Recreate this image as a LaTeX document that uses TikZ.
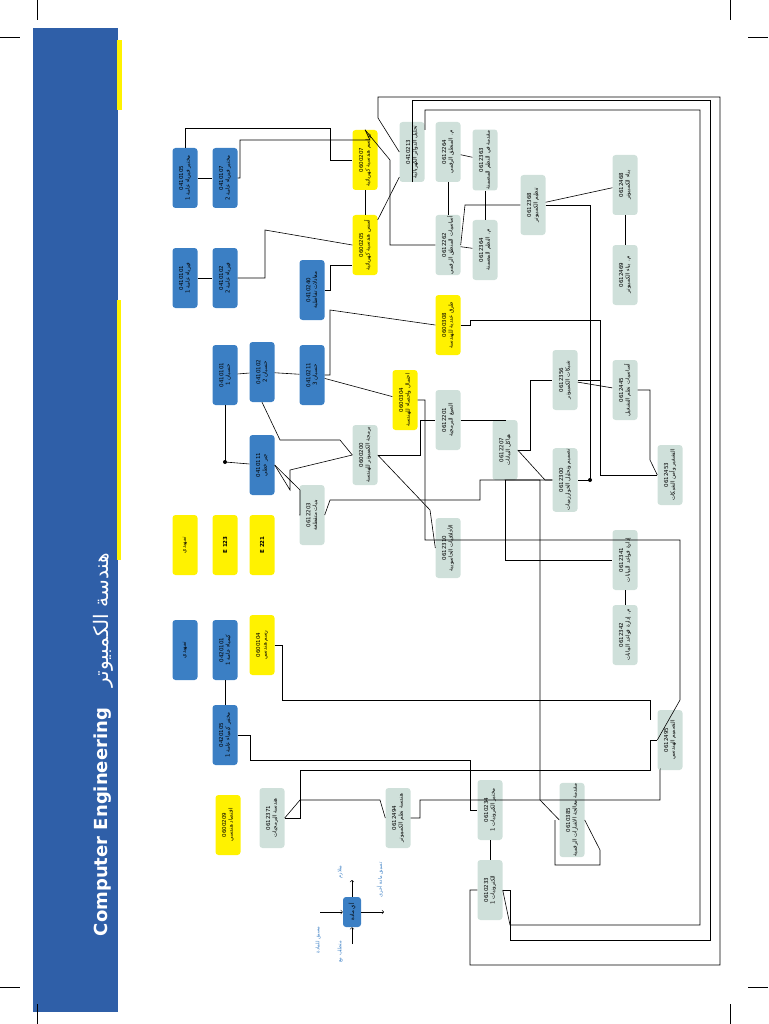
\documentclass[tikz,border=0pt]{standalone}
\usepackage{fontspec}
\setmainfont{DejaVu Sans}
\newfontfamily\arf[Script=Arabic]{DejaVu Sans}
\newcommand\AR[1]{{\arf\beginR #1\endR}}
\TeXXeTstate=1
\definecolor{bandblue}{HTML}{2F5FA8}
\definecolor{bblue}{HTML}{3B7FC4}
\definecolor{byel}{HTML}{FFF200}
\definecolor{bgray}{HTML}{CFE0DA}
\tikzset{
 bx/.style={rounded corners=3pt,align=center,rotate=90,font=\fontsize{5.5}{6.5}\selectfont,inner sep=1pt,minimum width=60pt,minimum height=25pt},
 B/.style={bx,fill=bblue,text=black},
 Y/.style={bx,fill=byel},
 G/.style={bx,fill=bgray},
 ln/.style={draw=black,line width=0.6pt},
}
\begin{document}
\begin{tikzpicture}[x=1pt,y=-1pt]
\useasboundingbox (0,0) rectangle (768,1024);
\fill[bandblue] (33,28) rectangle (118,1012);
\fill[byel] (117,40) rectangle (122,110);
\fill[byel] (117,300) rectangle (121,560);
\draw[line width=0.4pt] (0,37)--(20,37) (37,0)--(37,20) (748,37)--(768,37) (730,0)--(730,20) (0,987)--(20,987) (37,1004)--(37,1024) (748,987)--(768,987) (730,1004)--(730,1024);
\node[rotate=90,text=white,font=\bfseries\fontsize{18}{20}\selectfont] (title) at (103,822) {Computer Engineering};
\node[rotate=90,text=white,font=\fontsize{20}{22}\selectfont] (titlear) at (103,620) {\AR{هندسة الكمبيوتر}};
% blue
\node[B] (p1l) at (185,178) {0410105\\\AR{مختبر فيزياء عامة 1}};
\node[B] (p2l) at (225,178) {0410107\\\AR{مختبر فيزياء عامة 2}};
\node[B] (p1) at (185,278) {0410101\\\AR{فيزياء عامة 1}};
\node[B] (p2) at (225,278) {0410102\\\AR{فيزياء عامة 2}};
\node[B] (c1) at (225,375) {0410101\\\AR{حسبان 1}};
\node[B] (c2) at (262,372) {0410102\\\AR{حسبان 2}};
\node[B] (de) at (312,290) {0410240\\\AR{معادلات تفاضلية}};
\node[B] (c3) at (312,375) {0410211\\\AR{حسبان 3}};
\node[B] (la) at (262,465) {0410111\\\AR{جبر خطي}};
\node[B] (prep1) at (185,650) {\AR{تمهيدي}};
\node[B] (ch) at (225,650) {0420101\\\AR{كيمياء عامة 1}};
\node[B] (chl) at (225,735) {0420105\\\AR{مختبر كيمياء عامة 1}};
% yellow
\node[Y] (ec) at (365,160) {0600207\\\AR{رواسم هندسية كهربائية}};
\node[Y] (fe) at (365,245) {0600205\\\AR{أسس هندسية كهربائية}};
\node[Y] (nm) at (448,325) {0600308\\\AR{طرق عددية للهندسة}};
\node[Y] (ps) at (405,400) {0600304\\\AR{احتمال واحصاء للهندسة}};
\node[Y] (prep2) at (185,545) {\AR{تمهيدي}};
\node[Y] (e123) at (225,545) {\textbf{E 123}};
\node[Y] (e221) at (262,545) {\textbf{E 221}};
\node[Y] (ed) at (262,645) {0600104\\\AR{رسم هندسي}};
\node[Y] (eco) at (228,825) {0600209\\\AR{اقتصاد هندسي}};
% gray
\node[G] (ca) at (412,152) {0410213\\\AR{تحليل الدوائر الكهربائية}};
\node[G] (dll) at (448,152) {0612264\\\AR{م. المنطق الرقمي}};
\node[G] (emb) at (485,160) {0612363\\\AR{مقدمة في النظم المضمنة}};
\node[G] (dl) at (448,245) {0612262\\\AR{أساسيات المنطق الرقمي}};
\node[G] (embl) at (485,250) {0612364\\\AR{م. النظم المضمنة}};
\node[G] (co) at (533,205) {0612368\\\AR{تنظيم الكمبيوتر}};
\node[G] (arch) at (625,185) {0612468\\\AR{بناء الكمبيوتر}};
\node[G] (archl) at (625,275) {0612469\\\AR{م. بناء الكمبيوتر}};
\node[G] (prog) at (365,455) {0600200\\\AR{برمجة الكمبيوتر للهندسة}};
\node[G] (dm) at (312,515) {0612203\\\AR{بنيات متقطعة}};
\node[G] (pp) at (448,420) {0612201\\\AR{الصيغ البرمجية}};
\node[G] (ds) at (505,450) {0612207\\\AR{هياكل البيانات}};
\node[G] (net) at (565,380) {0612356\\\AR{شبكات الكمبيوتر}};
\node[G] (os) at (625,390) {0612445\\\AR{أساسيات نظم التشغيل}};
\node[G] (alg) at (565,480) {0612300\\\AR{تصميم وتحليل الخوارزميات}};
\node[G] (sec) at (670,475) {0612453\\\AR{التشفير وأمن الشبكات}};
\node[G] (eth) at (448,548) {0612310\\\AR{الأخلاقيات الحاسوبية}};
\node[G] (db) at (625,560) {0612341\\\AR{إدارة قواعد البيانات}};
\node[G] (dbl) at (625,635) {0612342\\\AR{م. إدارة قواعد البيانات}};
\node[G] (des) at (670,740) {0612495\\\AR{التصميم الهندسي}};
\node[G] (se) at (272,818) {0612371\\\AR{هندسة البرمجيات}};
\node[G] (cse) at (398,818) {0612494\\\AR{هندسة نظم الكمبيوتر}};
\node[G] (ell) at (490,810) {0610234\\\AR{مختبر الكترونيات 1}};
\node[G] (dsp) at (572,820) {0610385\\\AR{مقدمة معالجة الاشارات الرقمية}};
\node[G] (el) at (490,890) {0610233\\\AR{الكترونيات 1}};
% legend
\node[B,minimum width=30pt,minimum height=18pt] (lg) at (352,912) {\AR{أي مادة}};
\coordinate (lgt) at (352,880); \coordinate (lgb) at (352,944);
\coordinate (lgl) at (320,912); \coordinate (lgr) at (384,912);
\draw[ln,->] (lgb)--(lg); \draw[ln,->] (lg)--(lgt);
\draw[ln,->] (lgl)--(lg); \draw[ln,->] (lg)--(lgr);
\node[rotate=90,font=\fontsize{5}{6}\selectfont,text=bblue] (lg1) at (340,872) {\AR{متلازم}};
\node[rotate=90,font=\fontsize{5}{6}\selectfont,text=bblue] (lg2) at (340,952) {\AR{متطلب مع}};
\node[rotate=90,font=\fontsize{5}{6}\selectfont,text=bblue] (lg3) at (318,940) {\AR{مسبق للمادة}};
\node[rotate=90,font=\fontsize{5}{6}\selectfont,text=bblue] (lg4) at (380,880) {\AR{تسبق مادة أخرى}};
% connectors
\draw[ln] (p1l.east)--(185,128)--(330,128)--(330,160)--(ec.north);
\draw[ln] (p1l)--(p2l);
\draw[ln] (p1)--(p2);
\draw[ln] (p2.south)--(265,278)--(265,230)--(fe.north);
\draw[ln] (fe)--(ec);
\draw[ln] (de.south)--(330,290)--(330,265)--(352,265);
\draw[ln] (c1)--(c2);
\draw[ln] (c2)--(c3);
\draw[ln] (c3)--(ps);
\draw[ln] (c1.west)--(225,462);
\fill (225,462) circle (2pt);
\draw[ln] (225,462)--(la);
\draw[ln] (c2.west)--(280,440)--(340,440)--(prog.north);
\draw[ln] (la.south)--(300,490)--(300,515)--(dm);
\draw[ln] (prog.south)--(420,455)--(420,420)--(pp);
\draw[ln] (pp)--(505,420)--(ds.east);
\draw[ln] (ds.south)--(530,450)--(530,380)--(net);
\draw[ln] (ds.south)--(545,480)--(alg);
\draw[ln] (net)--(os);
\draw[ln] (net.south)--(600,380)--(600,475)--(sec);
\draw[ln] (ds.west)--(505,560)--(db);
\draw[ln] (db)--(dbl);
\draw[ln] (ec.east)--(390,160)--(390,245)--(dl);
\draw[ln] (fe)--(ca);
\draw[ln] (dl)--(dll);
\draw[ln] (dl)--(embl);
\draw[ln] (dll)--(emb);
\draw[ln] (emb)--(embl);
\draw[ln] (dl.south)--(465,205)--(co);
\draw[ln] (co)--(arch);
\draw[ln] (arch)--(archl);
\draw[ln] (co.south)--(590,205)--(590,480)--(alg.south);
\fill (590,480) circle (2pt);
\draw[ln] (dm.south)--(330,500)--(480,500)--(480,480)--(alg.north);
\draw[ln] (prog.south)--(430,510)--(eth.north);
\draw[ln] (ca.west)--(412,100)--(710,100)--(710,940)--(510,940)--(510,890)--(el);
\draw[ln] (el)--(ell);
\draw[ln] (ca.north)--(378,118)--(378,97)--(720,97)--(720,965)--(470,965)--(470,890)--(el.north);
\draw[ln] (el.south)--(510,925)--(700,925)--(700,110)--(425,110)--(425,130);
\draw[ln] (dsp.south)--(600,850)--(600,865)--(555,865)--(555,820);
\draw[ln] (cse.south)--(420,818)--(420,800)--(660,800)--(660,770)--(des);
\draw[ln] (se.south)--(300,818)--(300,770)--(650,770)--(650,740)--(des);
\draw[ln] (ed.south)--(282,645)--(282,700)--(650,700)--(650,720);
\draw[ln] (ch)--(chl);
\draw[ln] (chl.south)--(250,735)--(250,760)--(470,760)--(470,810)--(ell);
\draw[ln] (se.south)--(300,800)--(380,800)--(cse.north);
\draw[ln] (os.south)--(650,390)--(650,460)--(sec.north);
\draw[ln] (nm.south)--(470,325)--(470,320)--(600,320)--(600,380);
\draw[ln] (c3.south)--(330,375)--(330,310)--(nm.north);
\draw[ln] (ps.south)--(425,400)--(425,540)--(680,540)--(680,700)--(des.north);
\draw[ln] (ds.west)--(505,480)--(540,480)--(540,800)--(dsp.north);
\draw[ln] (la.south)--(290,490)--(290,470)--(prog.north);
\draw[ln] (p2l.south)--(240,178)--(240,140)--(370,140)--(ec.east);
\end{tikzpicture}
\end{document}
